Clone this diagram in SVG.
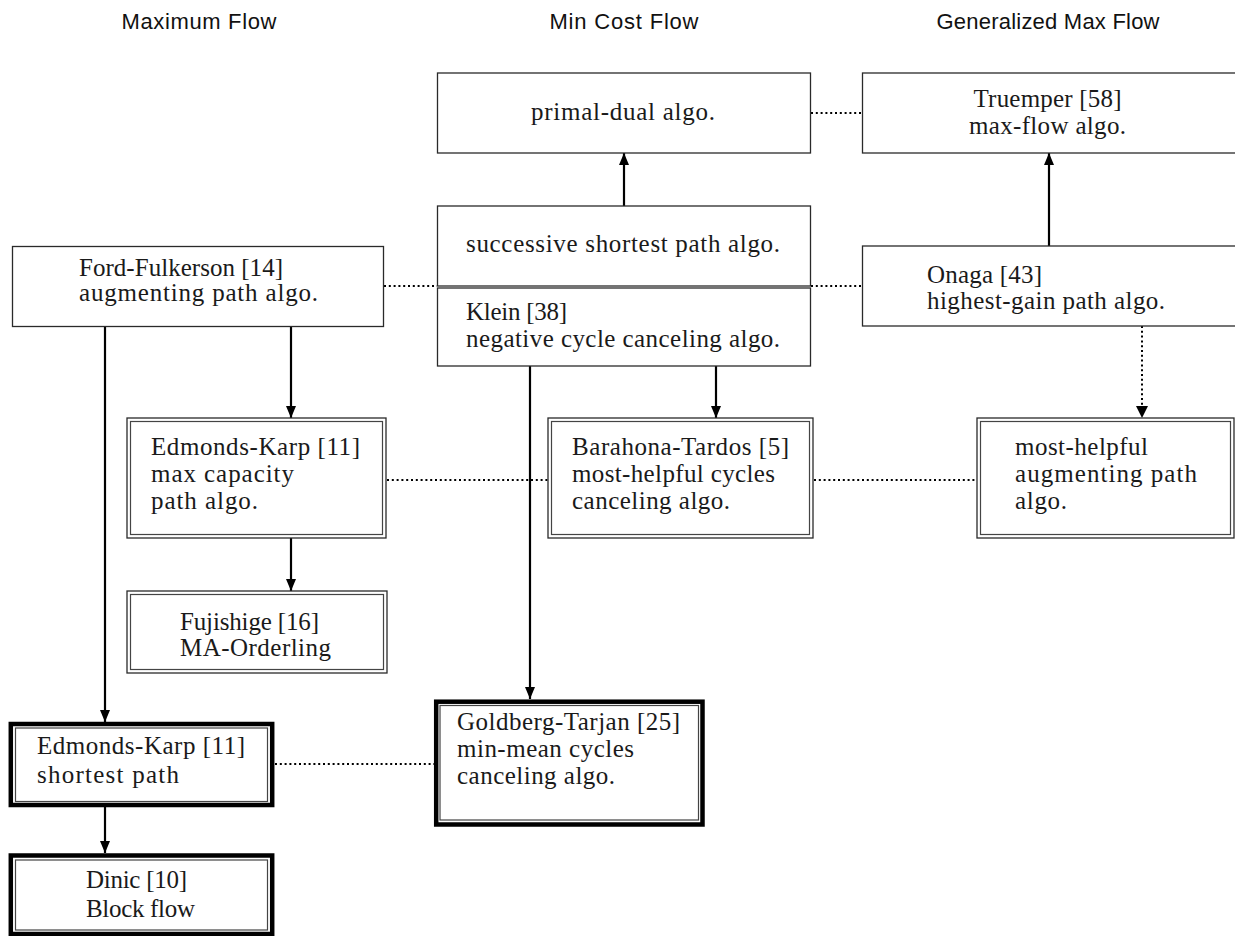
<svg xmlns="http://www.w3.org/2000/svg" width="1235" height="936" viewBox="0 0 1235 936">
<style>
.bg{fill:#fff}
.box{fill:#fff;stroke:#2a2a2a;stroke-width:1.3}
.dbl{fill:none;stroke:#444;stroke-width:1.2}
.thick{fill:#fff;stroke:#000;stroke-width:4.5}
.t{font-family:"Liberation Serif","Times New Roman",serif;font-size:25px;fill:#1a1a1a}
.h{font-family:"Liberation Sans",Arial,sans-serif;font-size:22px;fill:#111;text-anchor:middle}
.mid{text-anchor:middle}
.arr{stroke:#000;stroke-width:2.2;fill:none;marker-end:url(#ah)}
.dot{stroke:#000;stroke-width:2;fill:none;stroke-dasharray:2 2.8}
</style>
<defs>
<marker id="ah" markerUnits="userSpaceOnUse" markerWidth="13" markerHeight="11" refX="12" refY="5.5" orient="auto">
<path d="M0,0.5 L12,5.5 L0,10.5 z" fill="#000"/>
</marker>
</defs>
<rect class="bg" x="0" y="0" width="1235" height="936"/>
<g id="headers">
<text class="h" x="199" y="29" textLength="155">Maximum Flow</text>
<text class="h" x="624" y="29" textLength="149">Min Cost Flow</text>
<text class="h" x="1048" y="29" textLength="223">Generalized Max Flow</text>
</g>
<g id="connectors">
<line class="arr" x1="291" y1="326" x2="291" y2="418"/>
<line class="arr" x1="291" y1="538" x2="291" y2="591"/>
<line class="arr" x1="105" y1="326" x2="105" y2="722"/>
<line class="arr" x1="105" y1="807" x2="105" y2="853"/>
<line class="arr" x1="624" y1="206" x2="624" y2="153"/>
<line class="arr" x1="1049" y1="246" x2="1049" y2="153"/>
<line class="arr" x1="716" y1="366" x2="716" y2="418"/>
<line class="arr" x1="530" y1="366" x2="530" y2="699"/>
<line class="dot" x1="1142" y1="326" x2="1142" y2="408"/>
<path d="M1136,406 L1142,418 L1148,406 z" fill="#000"/>
<line class="dot" x1="811" y1="113" x2="862" y2="113"/>
<line class="dot" x1="384" y1="286" x2="437" y2="286"/>
<line class="dot" x1="811" y1="286" x2="862" y2="286"/>
<line class="dot" x1="387" y1="480" x2="548" y2="480"/>
<line class="dot" x1="814" y1="480" x2="977" y2="480"/>
<line class="dot" x1="275" y1="764" x2="434" y2="764"/>
</g>
<g id="ford-fulkerson">
<rect class="box" x="12.5" y="246.5" width="371" height="80"/>
<text class="t" x="79" y="276" textLength="204">Ford-Fulkerson [14]</text>
<text class="t" x="79" y="301" textLength="239">augmenting path algo.</text>
</g>
<g id="primal-dual">
<rect class="box" x="437.5" y="73" width="373" height="80"/>
<text class="t mid" x="623" y="120" textLength="184">primal-dual algo.</text>
</g>
<g id="successive">
<rect class="box" x="437.5" y="206" width="373" height="80"/>
<text class="t" x="466" y="252" textLength="314">successive shortest path algo.</text>
</g>
<g id="klein">
<rect class="box" x="437.5" y="288" width="373" height="78"/>
<text class="t" x="466" y="320" textLength="101">Klein [38]</text>
<text class="t" x="466" y="347" textLength="314">negative cycle canceling algo.</text>
</g>
<g id="truemper">
<rect class="box" x="862.5" y="73" width="380" height="80"/>
<text class="t mid" x="1047.5" y="107" textLength="148">Truemper [58]</text>
<text class="t mid" x="1047.5" y="134" textLength="157">max-flow algo.</text>
</g>
<g id="onaga">
<rect class="box" x="862.5" y="246" width="380" height="80"/>
<text class="t" x="927" y="283" textLength="115">Onaga [43]</text>
<text class="t" x="927" y="309" textLength="238">highest-gain path algo.</text>
</g>
<g id="edmonds-karp-maxcap">
<rect class="box" x="127" y="418" width="259" height="120"/>
<rect class="dbl" x="130.5" y="421.5" width="252" height="113"/>
<text class="t" x="151" y="455" textLength="209">Edmonds-Karp [11]</text>
<text class="t" x="151" y="482" textLength="143">max capacity</text>
<text class="t" x="151" y="509" textLength="107">path algo.</text>
</g>
<g id="barahona-tardos">
<rect class="box" x="548" y="418" width="265" height="120"/>
<rect class="dbl" x="551.5" y="421.5" width="258" height="113"/>
<text class="t" x="572" y="455" textLength="217">Barahona-Tardos [5]</text>
<text class="t" x="572" y="482" textLength="203">most-helpful cycles</text>
<text class="t" x="572" y="509" textLength="158">canceling algo.</text>
</g>
<g id="most-helpful">
<rect class="box" x="977" y="418" width="257" height="120"/>
<rect class="dbl" x="980.5" y="421.5" width="250" height="113"/>
<text class="t" x="1015" y="455" textLength="133">most-helpful</text>
<text class="t" x="1015" y="482" textLength="182">augmenting path</text>
<text class="t" x="1015" y="509" textLength="52">algo.</text>
</g>
<g id="fujishige">
<rect class="box" x="127" y="591" width="260" height="82"/>
<rect class="dbl" x="130.5" y="594.5" width="253" height="75"/>
<text class="t" x="180" y="630" textLength="139">Fujishige [16]</text>
<text class="t" x="180" y="656" textLength="151">MA-Orderling</text>
</g>
<g id="edmonds-karp-shortest">
<rect class="thick" x="10.8" y="724" width="261.4" height="81"/>
<rect class="dbl" x="15.5" y="728" width="252" height="73.5"/>
<text class="t" x="37" y="754" textLength="208">Edmonds-Karp [11]</text>
<text class="t" x="37" y="783" textLength="142">shortest path</text>
</g>
<g id="dinic">
<rect class="thick" x="10.8" y="855.5" width="261.4" height="78.5"/>
<rect class="dbl" x="15.5" y="860" width="252" height="70"/>
<text class="t" x="86" y="888" textLength="101">Dinic [10]</text>
<text class="t" x="86" y="917" textLength="109">Block flow</text>
</g>
<g id="goldberg-tarjan">
<rect class="thick" x="436.2" y="701.7" width="266.3" height="122.8"/>
<rect class="dbl" x="440" y="705.5" width="258.5" height="114.5"/>
<text class="t" x="457" y="730" textLength="223">Goldberg-Tarjan [25]</text>
<text class="t" x="457" y="757" textLength="177">min-mean cycles</text>
<text class="t" x="457" y="784" textLength="158">canceling algo.</text>
</g>
</svg>
